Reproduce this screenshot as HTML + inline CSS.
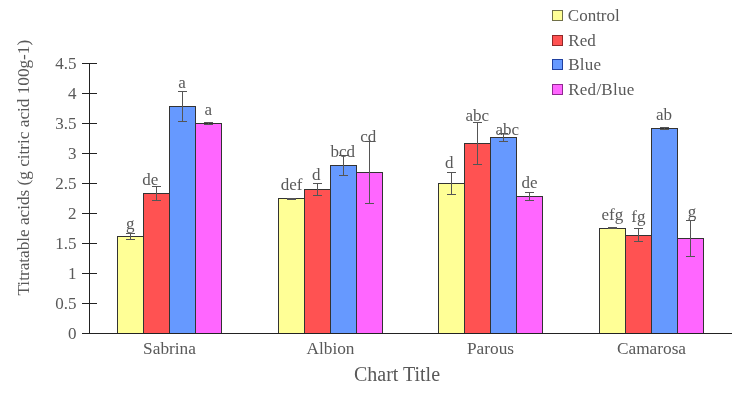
<!DOCTYPE html>
<html><head><meta charset="utf-8"><style>
html,body{margin:0;padding:0;background:#fff;}
svg{display:block;}
.t{font-family:"Liberation Serif",serif;font-size:17px;fill:#595959;}
</style></head><body>
<svg style="will-change:transform" width="744" height="393" viewBox="0 0 744 393">
<rect x="117.5" y="236.5" width="26" height="97" fill="#FFFF96" stroke="#333333" stroke-width="1"/>
<rect x="143.5" y="193.5" width="26" height="140" fill="#FF5252" stroke="#333333" stroke-width="1"/>
<rect x="169.5" y="106.5" width="26" height="227" fill="#6699FF" stroke="#333333" stroke-width="1"/>
<rect x="195.5" y="123.5" width="26" height="210" fill="#FF66FF" stroke="#333333" stroke-width="1"/>
<rect x="278.5" y="198.5" width="26" height="135" fill="#FFFF96" stroke="#333333" stroke-width="1"/>
<rect x="304.5" y="189.5" width="26" height="144" fill="#FF5252" stroke="#333333" stroke-width="1"/>
<rect x="330.5" y="165.5" width="26" height="168" fill="#6699FF" stroke="#333333" stroke-width="1"/>
<rect x="356.5" y="172.5" width="26" height="161" fill="#FF66FF" stroke="#333333" stroke-width="1"/>
<rect x="438.5" y="183.5" width="26" height="150" fill="#FFFF96" stroke="#333333" stroke-width="1"/>
<rect x="464.5" y="143.5" width="26" height="190" fill="#FF5252" stroke="#333333" stroke-width="1"/>
<rect x="490.5" y="137.5" width="26" height="196" fill="#6699FF" stroke="#333333" stroke-width="1"/>
<rect x="516.5" y="196.5" width="26" height="137" fill="#FF66FF" stroke="#333333" stroke-width="1"/>
<rect x="599.5" y="228.5" width="26" height="105" fill="#FFFF96" stroke="#333333" stroke-width="1"/>
<rect x="625.5" y="235.5" width="26" height="98" fill="#FF5252" stroke="#333333" stroke-width="1"/>
<rect x="651.5" y="128.5" width="26" height="205" fill="#6699FF" stroke="#333333" stroke-width="1"/>
<rect x="677.5" y="238.5" width="26" height="95" fill="#FF66FF" stroke="#333333" stroke-width="1"/>
<path d="M130.5 233.5V239.5M126.0 233.5H135.0M126.0 239.5H135.0" stroke="#555555" stroke-width="1" fill="none"/>
<path d="M156.5 186.5V200.5M152.0 186.5H161.0M152.0 200.5H161.0" stroke="#555555" stroke-width="1" fill="none"/>
<path d="M182.5 91.5V121.5M178.0 91.5H187.0M178.0 121.5H187.0" stroke="#555555" stroke-width="1" fill="none"/>
<path d="M208.5 122.5V124.5M204.0 122.5H213.0M204.0 124.5H213.0" stroke="#555555" stroke-width="1" fill="none"/>
<path d="M291.5 198.5V199.5M287.0 198.5H296.0M287.0 199.5H296.0" stroke="#555555" stroke-width="1" fill="none"/>
<path d="M317.5 183.5V195.5M313.0 183.5H322.0M313.0 195.5H322.0" stroke="#555555" stroke-width="1" fill="none"/>
<path d="M343.5 155.5V175.5M339.0 155.5H348.0M339.0 175.5H348.0" stroke="#555555" stroke-width="1" fill="none"/>
<path d="M369.5 141.5V203.5M365.0 141.5H374.0M365.0 203.5H374.0" stroke="#555555" stroke-width="1" fill="none"/>
<path d="M451.5 172.5V194.5M447.0 172.5H456.0M447.0 194.5H456.0" stroke="#555555" stroke-width="1" fill="none"/>
<path d="M477.5 122.5V164.5M473.0 122.5H482.0M473.0 164.5H482.0" stroke="#555555" stroke-width="1" fill="none"/>
<path d="M503.5 133.5V141.5M499.0 133.5H508.0M499.0 141.5H508.0" stroke="#555555" stroke-width="1" fill="none"/>
<path d="M529.5 192.5V200.5M525.0 192.5H534.0M525.0 200.5H534.0" stroke="#555555" stroke-width="1" fill="none"/>
<path d="M612.5 227.5V228.5M608.0 227.5H617.0M608.0 228.5H617.0" stroke="#555555" stroke-width="1" fill="none"/>
<path d="M638.5 228.5V241.5M634.0 228.5H643.0M634.0 241.5H643.0" stroke="#555555" stroke-width="1" fill="none"/>
<path d="M664.5 127.5V129.5M660.0 127.5H669.0M660.0 129.5H669.0" stroke="#555555" stroke-width="1" fill="none"/>
<path d="M690.5 220.5V256.5M686.0 220.5H695.0M686.0 256.5H695.0" stroke="#555555" stroke-width="1" fill="none"/>
<path d="M89.5 63.0V334" stroke="#222222" stroke-width="1" fill="none"/>
<path d="M82 333.5H732" stroke="#222222" stroke-width="1" fill="none"/>
<path d="M82 303.5H97" stroke="#222222" stroke-width="1" fill="none"/>
<path d="M82 273.5H97" stroke="#222222" stroke-width="1" fill="none"/>
<path d="M82 243.5H97" stroke="#222222" stroke-width="1" fill="none"/>
<path d="M82 213.5H97" stroke="#222222" stroke-width="1" fill="none"/>
<path d="M82 183.5H97" stroke="#222222" stroke-width="1" fill="none"/>
<path d="M82 153.5H97" stroke="#222222" stroke-width="1" fill="none"/>
<path d="M82 123.5H97" stroke="#222222" stroke-width="1" fill="none"/>
<path d="M82 93.5H97" stroke="#222222" stroke-width="1" fill="none"/>
<path d="M82 63.5H97" stroke="#222222" stroke-width="1" fill="none"/>
<text x="76.5" y="339.30" text-anchor="end" class="t">0</text>
<text x="76.5" y="309.30" text-anchor="end" class="t">0.5</text>
<text x="76.5" y="279.30" text-anchor="end" class="t">1</text>
<text x="76.5" y="249.30" text-anchor="end" class="t">1.5</text>
<text x="76.5" y="219.30" text-anchor="end" class="t">2</text>
<text x="76.5" y="189.30" text-anchor="end" class="t">2.5</text>
<text x="76.5" y="159.30" text-anchor="end" class="t">3</text>
<text x="76.5" y="129.30" text-anchor="end" class="t">3.5</text>
<text x="76.5" y="99.30" text-anchor="end" class="t">4</text>
<text x="76.5" y="69.30" text-anchor="end" class="t">4.5</text>
<text x="130.35" y="229.20" text-anchor="middle" class="t">g</text>
<text x="150.25" y="185.00" text-anchor="middle" class="t">de</text>
<text x="182.00" y="88.40" text-anchor="middle" class="t">a</text>
<text x="208.25" y="115.20" text-anchor="middle" class="t">a</text>
<text x="291.65" y="189.90" text-anchor="middle" class="t">def</text>
<text x="316.20" y="179.90" text-anchor="middle" class="t">d</text>
<text x="342.80" y="157.20" text-anchor="middle" class="t">bcd</text>
<text x="368.20" y="141.60" text-anchor="middle" class="t">cd</text>
<text x="449.35" y="168.20" text-anchor="middle" class="t">d</text>
<text x="477.30" y="121.00" text-anchor="middle" class="t">abc</text>
<text x="507.30" y="135.00" text-anchor="middle" class="t">abc</text>
<text x="529.50" y="188.10" text-anchor="middle" class="t">de</text>
<text x="612.30" y="219.70" text-anchor="middle" class="t">efg</text>
<text x="638.45" y="221.70" text-anchor="middle" class="t">fg</text>
<text x="664.00" y="119.90" text-anchor="middle" class="t">ab</text>
<text x="691.95" y="217.20" text-anchor="middle" class="t">g</text>
<text x="169.50" y="353.7" text-anchor="middle" class="t" style="font-size:17.3px">Sabrina</text>
<text x="330.50" y="353.7" text-anchor="middle" class="t" style="font-size:17.3px">Albion</text>
<text x="490.50" y="353.7" text-anchor="middle" class="t" style="font-size:17.3px">Parous</text>
<text x="651.50" y="353.7" text-anchor="middle" class="t" style="font-size:17.3px">Camarosa</text>
<text x="397" y="380.6" text-anchor="middle" class="t" style="font-size:20px">Chart Title</text>
<text transform="translate(28.6 167.7) rotate(-90)" text-anchor="middle" class="t" style="font-size:17.2px">Titratable acids (g citric acid 100g-1)</text>
<rect x="552.5" y="10.5" width="10" height="10" fill="#FFFF96" stroke="#707048" stroke-width="1"/>
<text x="567.8" y="21.0" class="t" style="letter-spacing:0.0px">Control</text>
<rect x="552.5" y="35.5" width="10" height="10" fill="#FF5252" stroke="#902828" stroke-width="1"/>
<text x="568.3" y="46.0" class="t" style="letter-spacing:0.0px">Red</text>
<rect x="552.5" y="59.5" width="10" height="10" fill="#6699FF" stroke="#2040a0" stroke-width="1"/>
<text x="568.2" y="70.0" class="t" style="letter-spacing:0.27px">Blue</text>
<rect x="552.5" y="84.5" width="10" height="10" fill="#FF66FF" stroke="#902890" stroke-width="1"/>
<text x="568.2" y="95.0" class="t" style="letter-spacing:0.27px">Red/Blue</text>
</svg>
</body></html>
